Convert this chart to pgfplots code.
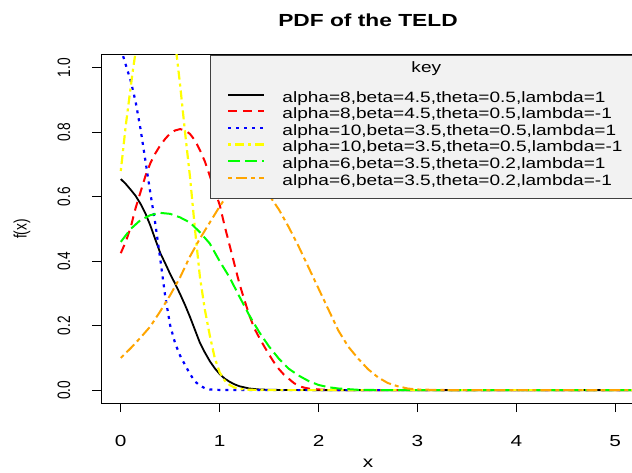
\documentclass[border=0pt]{standalone}
\usepackage{fontspec}
\setmainfont{Liberation Sans}[FakeStretch=1.3]
\newfontfamily\rotfont{Liberation Sans}[FakeStretch=0.76]
\newfontfamily\legfont{Liberation Sans}[FakeStretch=1.27]
\usepackage{pgfplots}
\pgfplotsset{compat=1.18}
\definecolor{rorange}{RGB}{255,165,0}
\definecolor{rgreen}{RGB}{0,255,0}
\definecolor{ryellow}{RGB}{255,255,0}
\begin{document}
\begin{tikzpicture}
\begin{axis}[
  at={(101pt,69pt)}, anchor=south west,
  scale only axis, width=534pt, height=348pt,
  xmin=-0.2, xmax=5.2, ymin=-0.04, ymax=1.04,
  xtick={0,1,2,3,4,5},
  ytick={0,0.2,0.4,0.6,0.8,1.0},
  yticklabels={0.0,0.2,0.4,0.6,0.8,1.0},
  xtick pos=left, ytick pos=left,
  tick align=outside, major tick length=9pt,
  axis line style={line width=1pt, black},
  every tick/.style={black, line width=1pt},
  /pgf/number format/assume math mode=true,
  xticklabel style={font=\fontsize{16}{19}\selectfont, anchor=center, yshift=-29pt},
  yticklabel style={font=\rotfont\fontsize{18}{21}\selectfont, xshift=-28pt, rotate=90, anchor=center},
  title={PDF of the TELD},
  title style={at={(0.5,1.082)}, anchor=center, font=\bfseries\fontsize{17.5}{20}\selectfont},
  xlabel={x},
  xlabel style={at={(0.5,-0.172)}, anchor=center, inner sep=0pt, font=\fontsize{16}{19}\selectfont},
  ylabel={f(x)},
  ylabel style={at={(-0.148,0.5)}, anchor=center, font=\rotfont\fontsize{18}{21}\selectfont},
  legend style={at={(1,1)}, anchor=north east, draw=black!75, line width=1pt,
    fill=gray!10, inner xsep=12pt, inner ysep=9pt, row sep=1.6pt, column sep=17pt,
    nodes={inner sep=0pt, text height=11pt, text depth=4pt, font=\legfont\fontsize{15}{18}\selectfont}},
  legend cell align=left,
  legend image code/.code={\path[draw=none] (0pt,0pt) -- (0pt,1pt); \draw[#1] (6pt,4pt) -- (42pt,4pt);},
]
\addlegendimage{empty legend}
\addlegendentry[text depth=14pt]{\hspace*{129pt}\raisebox{3pt}{key}}

\addplot[black, line width=1.8pt] coordinates {
(0,0.655)(0.05,0.64)(0.1,0.622)(0.15,0.603)(0.2,0.578)(0.25,0.548)(0.3,0.51)(0.35,0.467)(0.4,0.425)(0.45,0.393)(0.5,0.36)(0.55,0.33)(0.6,0.298)(0.65,0.264)(0.7,0.227)(0.75,0.187)(0.8,0.147)(0.85,0.117)(0.9,0.09)(0.95,0.068)(1.0,0.05)(1.05,0.036)(1.1,0.026)(1.15,0.018)(1.2,0.012)(1.3,0.005)(1.4,0.002)(1.5,0.001)(1.7,0.0002)(2,0)(3,0)(4,0)(5.2,0)
};
\addlegendentry{alpha=8,beta=4.5,theta=0.5,lambda=1}

\addplot[red, line width=2pt, dash pattern=on 9pt off 6pt] coordinates {
(0,0.425)(0.05,0.46)(0.1,0.505)(0.15,0.565)(0.2,0.615)(0.25,0.665)(0.3,0.705)(0.35,0.735)(0.4,0.76)(0.45,0.78)(0.5,0.797)(0.55,0.806)(0.6,0.81)(0.65,0.806)(0.7,0.795)(0.75,0.775)(0.8,0.745)(0.85,0.71)(0.9,0.665)(0.95,0.62)(1.0,0.575)(1.05,0.51)(1.1,0.45)(1.15,0.39)(1.2,0.33)(1.25,0.28)(1.3,0.232)(1.35,0.192)(1.4,0.163)(1.45,0.136)(1.5,0.11)(1.55,0.086)(1.6,0.065)(1.65,0.048)(1.7,0.035)(1.75,0.022)(1.8,0.013)(1.85,0.008)(1.9,0.005)(2.0,0.002)(2.2,0.0003)(2.5,0)(3.5,0)(5.2,0)
};
\addlegendentry{alpha=8,beta=4.5,theta=0.5,lambda=-1}

\addplot[blue, line width=2.2pt, dash pattern=on 3pt off 5pt] coordinates {
(0,1.06)(0.05,1.01)(0.1,0.96)(0.15,0.895)(0.2,0.81)(0.25,0.71)(0.3,0.61)(0.35,0.515)(0.4,0.405)(0.45,0.29)(0.5,0.2)(0.55,0.145)(0.6,0.107)(0.65,0.078)(0.7,0.05)(0.75,0.027)(0.8,0.014)(0.85,0.006)(0.9,0.002)(1.0,0.0005)(1.2,0)(2.5,0)(4,0)(5.2,0)
};
\addlegendentry{alpha=10,beta=3.5,theta=0.5,lambda=1}

\addplot[ryellow, line width=2.2pt, dash pattern=on 3pt off 4pt on 9pt off 4pt] coordinates {
(0,0.68)(0.025,0.75)(0.05,0.82)(0.075,0.88)(0.1,0.94)(0.125,0.998)(0.15,1.05)(0.2,1.15)(0.25,1.23)(0.3,1.28)(0.35,1.3)(0.4,1.28)(0.45,1.23)(0.5,1.16)(0.55,1.08)(0.6,0.947)(0.65,0.8)(0.7,0.662)(0.75,0.5)(0.8,0.352)(0.85,0.25)(0.9,0.17)(0.95,0.1)(1.0,0.055)(1.05,0.03)(1.1,0.016)(1.15,0.008)(1.2,0.004)(1.3,0.001)(1.5,0)(3,0)(5.2,0)
};
\addlegendentry{alpha=10,beta=3.5,theta=0.5,lambda=-1}

\addplot[rgreen, line width=2pt, dash pattern=on 12pt off 5pt] coordinates {
(0,0.46)(0.1,0.5)(0.2,0.528)(0.3,0.543)(0.4,0.55)(0.5,0.547)(0.6,0.536)(0.7,0.52)(0.8,0.49)(0.9,0.455)(1.0,0.4)(1.1,0.35)(1.2,0.29)(1.3,0.232)(1.4,0.18)(1.5,0.135)(1.6,0.097)(1.7,0.066)(1.8,0.045)(1.9,0.028)(2.0,0.016)(2.1,0.009)(2.2,0.005)(2.4,0.001)(2.6,0.0002)(3,0)(4,0)(5.2,0)
};
\addlegendentry{alpha=6,beta=3.5,theta=0.2,lambda=1}

\addplot[rorange, line width=2pt, dash pattern=on 4pt off 4pt on 11pt off 4pt] coordinates {
(0,0.1)(0.1,0.13)(0.2,0.163)(0.3,0.198)(0.4,0.245)(0.5,0.295)(0.6,0.35)(0.7,0.415)(0.8,0.47)(0.9,0.52)(1.0,0.57)(1.1,0.615)(1.2,0.645)(1.3,0.655)(1.4,0.645)(1.5,0.605)(1.6,0.56)(1.7,0.505)(1.8,0.445)(1.9,0.38)(2.0,0.315)(2.1,0.25)(2.2,0.185)(2.3,0.135)(2.4,0.098)(2.5,0.065)(2.6,0.04)(2.7,0.022)(2.8,0.012)(2.9,0.005)(3.0,0.002)(3.2,0.0005)(3.5,0)(4.5,0)(5.2,0)
};
\addlegendentry{alpha=6,beta=3.5,theta=0.2,lambda=-1}
\end{axis}
\pgfresetboundingbox
\useasboundingbox (0,0) rectangle (632pt,472pt);
\end{tikzpicture}
\end{document}
